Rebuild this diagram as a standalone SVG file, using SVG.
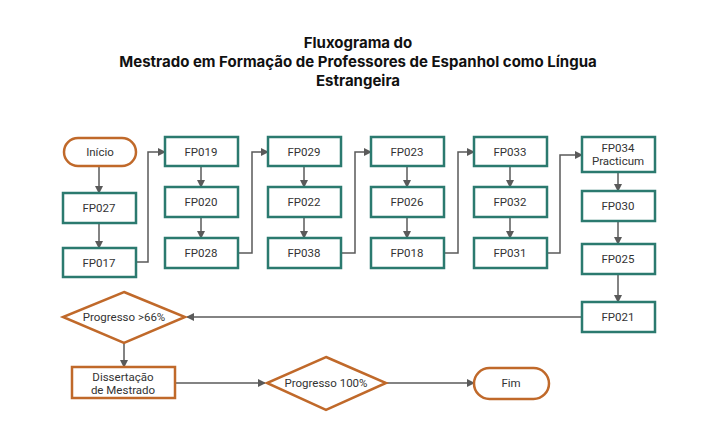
<svg xmlns="http://www.w3.org/2000/svg" width="716" height="448" viewBox="0 0 716 448">
<defs>
<marker id="ah" markerWidth="8" markerHeight="8" refX="7" refY="4" orient="auto" markerUnits="userSpaceOnUse"><path d="M0,0 L8,4 L0,8 z" fill="#5a5a5a"/></marker>
<style>
.b{fill:#fff;stroke:#2b7a6f;stroke-width:2.5}
.o{fill:#fff;stroke:#c0692a;stroke-width:2.5}
.t{font-family:Roboto,"Liberation Sans",sans-serif;font-size:11.5px;fill:#333;text-anchor:middle;dominant-baseline:central}
.h{font-family:Inter,"Liberation Sans",sans-serif;font-size:15px;font-weight:bold;fill:#111;text-anchor:middle}
.c{fill:none;stroke:#5a5a5a;stroke-width:1.5;marker-end:url(#ah)}
</style>
</defs>
<rect width="716" height="448" fill="#fff"/>
<g id="title">
<text class="h" x="358" y="48">Fluxograma do</text>
<text class="h" x="358" y="67">Mestrado em Formação de Professores de Espanhol como Língua</text>
<text class="h" x="358" y="86">Estrangeira</text>
</g>
<g id="connectors">
<path class="c" d="M99,166 V193"/>
<path class="c" d="M99,223 V248"/>
<path class="c" d="M136,262 H148 V152 H165"/>
<path class="c" d="M201,166 V187"/>
<path class="c" d="M201,217 V238"/>
<path class="c" d="M238,253 H252 V152 H268"/>
<path class="c" d="M304,166 V187"/>
<path class="c" d="M304,217 V238"/>
<path class="c" d="M341,253 H355 V152 H371"/>
<path class="c" d="M407,166 V187"/>
<path class="c" d="M407,217 V238"/>
<path class="c" d="M444,253 H458 V152 H474"/>
<path class="c" d="M510,166 V187"/>
<path class="c" d="M510,217 V238"/>
<path class="c" d="M547,253 H560 V155 H582"/>
<path class="c" d="M618,172 V191"/>
<path class="c" d="M618,221 V244"/>
<path class="c" d="M618,274 V302"/>
<path class="c" d="M582,317 H187"/>
<path class="c" d="M124,343 V367"/>
<path class="c" d="M175,383 H265"/>
<path class="c" d="M385,383 H474"/>
</g>
<g id="inicio"><rect class="o" x="64" y="138" width="72" height="28" rx="14"/><text class="t" x="100" y="152">Início</text></g>
<g id="fp027"><rect class="b" x="63" y="193" width="73" height="30"/><text class="t" x="99" y="208">FP027</text></g>
<g id="fp017"><rect class="b" x="63" y="248" width="73" height="29"/><text class="t" x="99" y="263">FP017</text></g>
<g id="fp019"><rect class="b" x="165" y="137" width="73" height="29"/><text class="t" x="201" y="152">FP019</text></g>
<g id="fp020"><rect class="b" x="165" y="187" width="73" height="30"/><text class="t" x="201" y="202">FP020</text></g>
<g id="fp028"><rect class="b" x="165" y="238" width="73" height="30"/><text class="t" x="201" y="253">FP028</text></g>
<g id="fp029"><rect class="b" x="268" y="137" width="73" height="29"/><text class="t" x="304" y="152">FP029</text></g>
<g id="fp022"><rect class="b" x="268" y="187" width="73" height="30"/><text class="t" x="304" y="202">FP022</text></g>
<g id="fp038"><rect class="b" x="268" y="238" width="73" height="30"/><text class="t" x="304" y="253">FP038</text></g>
<g id="fp023"><rect class="b" x="371" y="137" width="73" height="29"/><text class="t" x="407" y="152">FP023</text></g>
<g id="fp026"><rect class="b" x="371" y="187" width="73" height="30"/><text class="t" x="407" y="202">FP026</text></g>
<g id="fp018"><rect class="b" x="371" y="238" width="73" height="30"/><text class="t" x="407" y="253">FP018</text></g>
<g id="fp033"><rect class="b" x="474" y="137" width="73" height="29"/><text class="t" x="510" y="152">FP033</text></g>
<g id="fp032"><rect class="b" x="474" y="187" width="73" height="30"/><text class="t" x="510" y="202">FP032</text></g>
<g id="fp031"><rect class="b" x="474" y="238" width="73" height="30"/><text class="t" x="510" y="253">FP031</text></g>
<g id="fp034"><rect class="b" x="582" y="137" width="73" height="35"/><text class="t" x="618" y="148">FP034</text><text class="t" x="618" y="161">Practicum</text></g>
<g id="fp030"><rect class="b" x="582" y="191" width="73" height="30"/><text class="t" x="618" y="206">FP030</text></g>
<g id="fp025"><rect class="b" x="582" y="244" width="73" height="30"/><text class="t" x="618" y="259">FP025</text></g>
<g id="fp021"><rect class="b" x="582" y="302" width="73" height="30"/><text class="t" x="618" y="317">FP021</text></g>
<g id="prog66"><polygon class="o" points="124,292 185,317 124,343 63,317"/><text class="t" x="124" y="317">Progresso &gt;66%</text></g>
<g id="dissertacao"><rect class="o" x="72" y="367" width="103" height="31"/><text class="t" x="123" y="377">Dissertação</text><text class="t" x="123" y="390">de Mestrado</text></g>
<g id="prog100"><polygon class="o" points="326,357 386,383 326,410 267,383"/><text class="t" x="326" y="383">Progresso 100%</text></g>
<g id="fim"><rect class="o" x="474" y="368" width="75" height="31" rx="15.5"/><text class="t" x="511" y="383">Fim</text></g>
</svg>
